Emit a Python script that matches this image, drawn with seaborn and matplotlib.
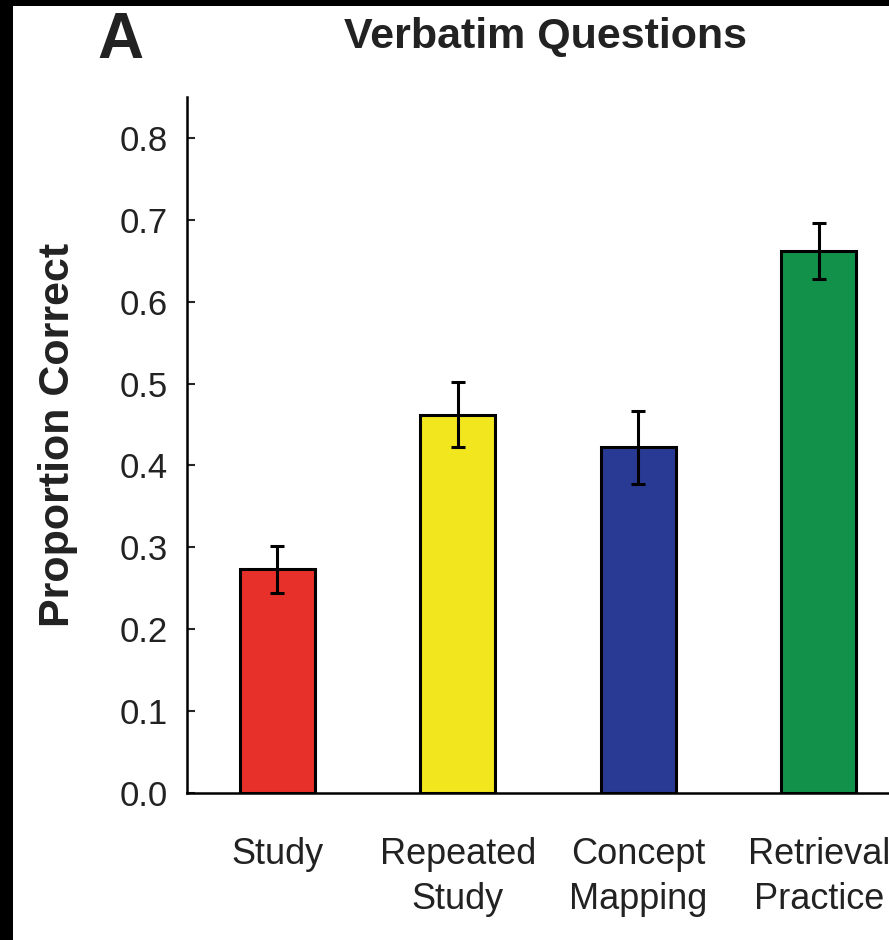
import pandas as pd
import matplotlib
matplotlib.use("Agg")
import matplotlib.pyplot as plt
from matplotlib.patches import Rectangle
import seaborn as sns

# --- Data ---
conditions = ["Study", "Repeated\nStudy", "Concept\nMapping", "Retrieval\nPractice"]
proportion = [0.273, 0.462, 0.422, 0.662]
sem = [0.029, 0.040, 0.045, 0.034]
colors = ["#E8302A", "#F2E61E", "#293A94", "#12914A"]

df = pd.DataFrame({"condition": conditions, "proportion": proportion})

sns.set_style("white")
plt.rcParams["font.family"] = ["Liberation Sans", "DejaVu Sans"]

fig = plt.figure(figsize=(8.89, 9.40), dpi=100, facecolor="black")
# white panel (black strip on top and left like the scanned figure)
fig.patches.append(Rectangle((13 / 889, 0), 1, 1 - 6 / 940, transform=fig.transFigure,
                             facecolor="white", edgecolor="none", zorder=-10))

ax = fig.add_axes([187 / 889, 1 - 793 / 940, 722 / 889, 696 / 940])
ax.set_facecolor("none")

sns.barplot(data=df, x="condition", y="proportion", hue="condition", palette=colors,
            saturation=1, legend=False, width=0.415, edgecolor="black", linewidth=2.2,
            ax=ax, zorder=2)
ax.errorbar(range(len(conditions)), proportion, yerr=sem, fmt="none", ecolor="black",
            elinewidth=2.2, capsize=5, capthick=2.2, zorder=3)

ax.set_xlim(-0.5, 3.5)
ax.set_ylim(0, 0.85)
ax.set_yticks([0.0, 0.1, 0.2, 0.3, 0.4, 0.5, 0.6, 0.7, 0.8])
ax.set_yticklabels([f"{v:.1f}" for v in ax.get_yticks()], fontsize=25, color="#222222")
ax.tick_params(axis="y", direction="in", length=6, width=1.5, pad=14, left=True)
ax.tick_params(axis="x", length=0, pad=32, labelsize=26, labelcolor="#222222")
for lbl in ax.get_xticklabels():
    lbl.set_multialignment("center")
    lbl.set_linespacing(1.35)

for side in ["top", "right"]:
    ax.spines[side].set_visible(False)
for side in ["left", "bottom"]:
    ax.spines[side].set_color("black")
    ax.spines[side].set_linewidth(1.8)

ax.set_xlabel("")
ax.set_ylabel("Proportion Correct", fontsize=31, fontweight="bold", color="#222222")
ax.yaxis.set_label_coords((78 - 187) / 722, (793 - 435) / 696)

fig.text(545 / 889, 1 - 37 / 940, "Verbatim Questions", ha="center", va="center",
         fontsize=31, fontweight="bold", color="#222222")
fig.text(120 / 889, 1 - 41 / 940, "A", ha="center", va="center",
         fontsize=46, fontweight="bold", color="#222222")

fig.savefig("out.png", dpi=100, facecolor=fig.get_facecolor())
